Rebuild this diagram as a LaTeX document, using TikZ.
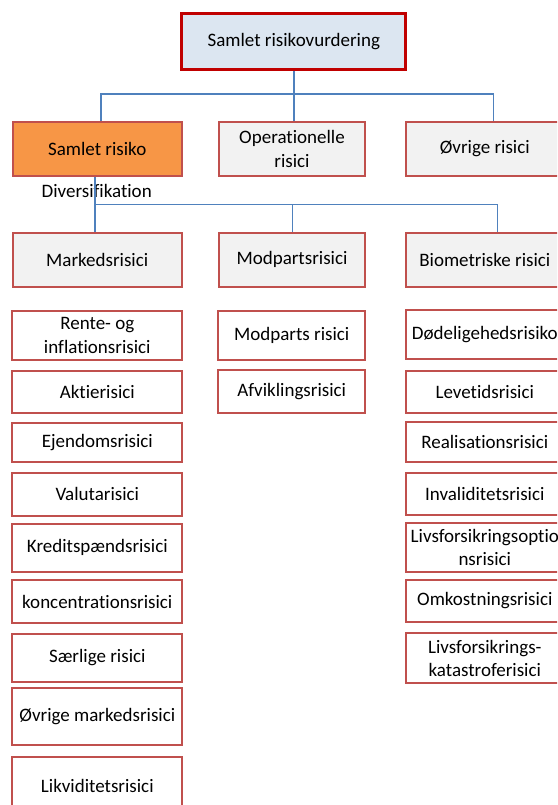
\documentclass[tikz,border=0pt]{standalone}
\usepackage{fontspec}
\setmainfont{Carlito}[Ligatures=NoCommon]
\usepackage{xcolor}
\definecolor{boxRed}{HTML}{C0504D}
\definecolor{topRed}{HTML}{C00000}
\definecolor{topFill}{HTML}{DCE6F1}
\definecolor{greyFill}{HTML}{F2F2F2}
\definecolor{orangeFill}{HTML}{F79646}
\definecolor{linkBlue}{HTML}{4F81BD}
\tikzset{
riskBox/.style={draw=boxRed, line width=2pt, fill=white, align=center,
    inner sep=0pt, font=\fontsize{19}{23.5}\selectfont},
greyBox/.style={riskBox, fill=greyFill},
topBox/.style={riskBox, draw=topRed, line width=3pt, fill=topFill},
linkLine/.style={draw=linkBlue, line width=1.5pt}
}

\begin{document}
\begin{tikzpicture}[x=1pt,y=-1pt]
    \useasboundingbox (0,0) rectangle (557,805);
    \clip (0,0) rectangle (557,805);

    \node[topBox, minimum width=224pt, minimum height=56pt] (top) at (293.8,42) {Samlet risikovurdering};

    \node[greyBox, fill=orangeFill, minimum width=169pt, minimum height=54pt] (samlet) at (97.2,149) {Samlet risiko};
    \node[greyBox, minimum width=146pt, minimum height=54pt] (oper) at (292,149) {Operationelle\\risici};
    \node[greyBox, minimum width=158pt, minimum height=54pt] (ovrige) at (484.8,149) {Øvrige risici};

    \node[font=\fontsize{19}{23.5}\selectfont] (divers) at (96.7,191) {Diversifikation};

    \node[greyBox, minimum width=169pt, minimum height=54pt] (markeds) at (97.2,259.5) {Markedsrisici};
    \node[greyBox, minimum width=146pt, minimum height=54pt] (modparts) at (292,259.5) {Modpartsrisici};
    \node[greyBox, minimum width=158pt, minimum height=54pt] (biometri) at (484.8,259.5) {Biometriske risici};

    % markedsrisici
    \node[riskBox, minimum width=170pt, minimum height=49pt] (rente) at (97.3,335.3) {Rente- og\\inflationsrisici};
    \node[riskBox, minimum width=170pt, minimum height=42pt] (aktie) at (97.3,392) {Aktierisici};
    \node[riskBox, minimum width=170pt, minimum height=39.5pt] (ejendom) at (97.3,442.5) {Ejendomsrisici};
    \node[riskBox, minimum width=170pt, minimum height=43pt] (valuta) at (97.3,494.2) {Valutarisici};
    \node[riskBox, minimum width=170pt, minimum height=48pt] (kredit) at (97.3,547.5) {Kreditspændsrisici};
    \node[riskBox, minimum width=170pt, minimum height=43pt] (konc) at (97.3,601.7) {koncentrationsrisici};
    \node[riskBox, minimum width=170pt, minimum height=47.5pt] (saerlig) at (97.3,657.8) {Særlige risici};
    \node[riskBox, minimum width=170pt, minimum height=56.5pt] (ovrmark) at (97.3,716.7) {Øvrige markedsrisici};
    \node[riskBox, minimum width=170pt, minimum height=58pt] (likvid) at (97.3,786) {Likviditetsrisici};

    % modpartsrisici
    \node[riskBox, minimum width=146.5pt, minimum height=49pt] (modrisici) at (291.7,335.3) {Modparts risici};
    \node[riskBox, minimum width=146.5pt, minimum height=43pt] (afvikling) at (291.7,391.7) {Afviklingsrisici};

    % biometriske risici
    \node[riskBox, minimum width=158pt, minimum height=49pt] (doed) at (484.8,334.7) {Dødeligehedsrisiko};
    \node[riskBox, minimum width=158pt, minimum height=42pt] (levetid) at (484.8,391.7) {Levetidsrisici};
    \node[riskBox, minimum width=158pt, minimum height=39.5pt] (realis) at (484.8,442) {Realisationsrisici};
    \node[riskBox, minimum width=158pt, minimum height=41.5pt] (invalid) at (484.8,494.2) {Invaliditetsrisici};
    \node[riskBox, minimum width=158pt, minimum height=49.5pt] (livsopt) at (484.8,547.5) {Livsforsikringsoptio\\nsrisici};
    \node[riskBox, minimum width=158pt, minimum height=41.5pt] (omkost) at (484.8,600.8) {Omkostningsrisici};
    \node[riskBox, minimum width=158pt, minimum height=50pt] (livskat) at (484.8,658.3) {Livsforsikrings-\\katastroferisici};

    % connectors
    \coordinate (busL) at (101,94);
    \coordinate (busR) at (493.3,94);
    \draw[linkLine] (top.south) -- (top.south |- oper.north);
    \draw[linkLine] (busL |- samlet.north) -- (busL) -- (busR) -- (busR |- ovrige.north);

    \coordinate (divL) at (95,204.7);
    \coordinate (divM) at (292.7,204.7);
    \coordinate (divR) at (497.3,204.7);
    \draw[linkLine] (divL |- samlet.south) -- (divL |- markeds.north);
    \draw[linkLine] (divL) -- (divR) -- (divR |- biometri.north);
    \draw[linkLine] (divM) -- (divM |- modparts.north);
\end{tikzpicture}
\end{document}
